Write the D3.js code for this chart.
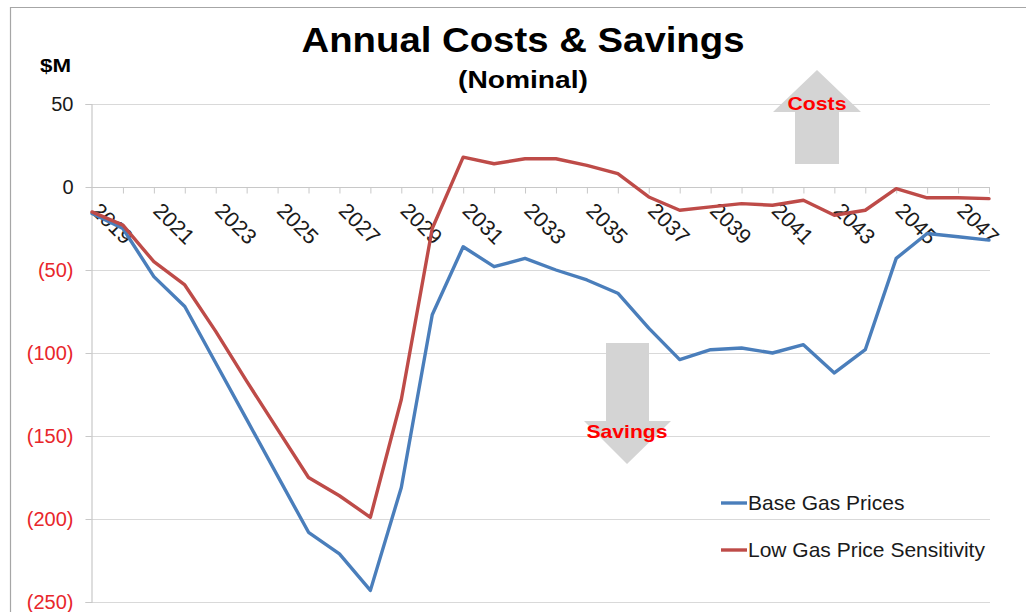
<!DOCTYPE html>
<html>
<head>
<meta charset="utf-8">
<script src="https://cdn.jsdelivr.net/npm/d3@7"></script>
<style>
  html, body { margin: 0; padding: 0; background: #fff; }
  svg { display: block; font-family: "Liberation Sans", Arial, sans-serif; }
</style>
</head>
<body>
<svg id="chart" width="1026" height="612"></svg>
<script>
// ---- data ----
const years = [2019, 2020, 2021, 2022, 2023, 2024, 2025, 2026, 2027, 2028, 2029,
               2030, 2031, 2032, 2033, 2034, 2035, 2036, 2037, 2038, 2039, 2040,
               2041, 2042, 2043, 2044, 2045, 2046, 2047, 2048];
const baseGas = [-16, -25, -54, -72, -106, -140, -174, -208, -221, -243, -181,
                 -77, -36, -48, -43, -50, -56, -64, -85, -104, -98, -97,
                 -100, -95, -112, -98, -43, -28, -30, -32];
const lowGas = [-15, -23, -45, -59, -87, -117, -146, -175, -186, -199, -128,
                -25, 18, 14, 17, 17, 13, 8, -6, -14, -12, -10,
                -11, -8, -17, -14, -1, -6.5, -6.5, -7];
const yTicks = [50, 0, -50, -100, -150, -200, -250];
const labelYears = [2019, 2021, 2023, 2025, 2027, 2029, 2031, 2033, 2035, 2037,
                    2039, 2041, 2043, 2045, 2047];
const seriesNames = ["Base Gas Prices", "Low Gas Price Sensitivity"];
const seriesColors = ["#4a7ebb", "#be4b48"];

const svg = d3.select("#chart");

// frame
svg.append("path").attr("d", "M10.5,612 L10.5,7.5 L1026,7.5")
  .attr("fill", "none").attr("stroke", "#a6a6a6").attr("stroke-width", 1.2);

const x = d3.scalePoint().domain(years).range([92, 989]);
const y = d3.scaleLinear().domain([-250, 50]).range([602, 104]);

// gridlines
svg.append("g").selectAll("line").data(yTicks).join("line")
  .attr("x1", 91).attr("x2", 990)
  .attr("y1", d => Math.round(y(d)) + 0.5).attr("y2", d => Math.round(y(d)) + 0.5)
  .attr("stroke", "#d9d9d9").attr("stroke-width", 1.2);

// y axis
const yAxis = d3.axisLeft(y).tickValues(yTicks).tickSize(6).tickPadding(12)
  .tickFormat(d => d < 0 ? "(" + Math.abs(d) + ")" : String(d));
const gy = svg.append("g").attr("transform", "translate(91.5,0)").call(yAxis);
gy.select(".domain").attr("stroke", "#c8c8c8").attr("stroke-width", 1.2);
gy.selectAll(".tick line").attr("stroke", "#c8c8c8");
gy.selectAll(".tick text")
  .attr("font-size", 20)
  .attr("font-family", "Liberation Sans, Arial, sans-serif")
  .attr("fill", d => d < 0 ? "#e8262b" : "#1a1a1a");

// x axis at zero
const xAxis = d3.axisBottom(x).tickSize(6).tickFormat("");
const gx = svg.append("g").attr("transform", `translate(0,${Math.round(y(0)) + 0.5})`).call(xAxis);
gx.select(".domain").attr("d", "M91,0H990").attr("stroke", "#c8c8c8").attr("stroke-width", 1.2);
gx.selectAll(".tick line").attr("stroke", "#c8c8c8");
gx.selectAll(".tick").filter(d => d === years[0]).remove();

// rotated x labels
svg.append("g").selectAll("text").data(labelYears).join("text")
  .attr("transform", d => `translate(${x(d) + 9},${y(0) + 14}) rotate(45)`)
  .attr("font-size", 21.5)
  .attr("fill", "#1a1a1a")
  .attr("dy", "0.72em")
  .text(d => d);

// arrows
const arrowColor = "#d4d4d4";
// up arrow (Costs)
svg.append("path")
  .attr("d", "M817,70 L861,112 L839,112 L839,164 L795,164 L795,112 L773,112 Z")
  .attr("fill", arrowColor);
svg.append("text").attr("x", 817).attr("y", 110).attr("text-anchor", "middle")
  .attr("font-size", 19).attr("font-weight", "bold").attr("fill", "#ff0000")
  .attr("textLength", 59).attr("lengthAdjust", "spacingAndGlyphs")
  .text("Costs");
// down arrow (Savings)
svg.append("path")
  .attr("d", "M606,343 L649,343 L649,421 L671,421 L627,464 L584,421 L606,421 Z")
  .attr("fill", arrowColor);
svg.append("text").attr("x", 627).attr("y", 438).attr("text-anchor", "middle")
  .attr("font-size", 19).attr("font-weight", "bold").attr("fill", "#ff0000")
  .attr("textLength", 81).attr("lengthAdjust", "spacingAndGlyphs")
  .text("Savings");

// lines
const line = d3.line().x((d, i) => x(years[i])).y(d => y(d)).curve(d3.curveLinear);
[baseGas, lowGas].forEach((s, k) => {
  svg.append("path").datum(s)
    .attr("d", line)
    .attr("fill", "none")
    .attr("stroke", seriesColors[k])
    .attr("stroke-width", 3.4)
    .attr("stroke-linejoin", "round")
    .attr("stroke-linecap", "round");
});

// legend
const legendY = [503, 550];
seriesNames.forEach((n, k) => {
  svg.append("line").attr("x1", 721).attr("x2", 747)
    .attr("y1", legendY[k]).attr("y2", legendY[k])
    .attr("stroke", seriesColors[k]).attr("stroke-width", 3.4);
  svg.append("text").attr("x", 748).attr("y", legendY[k]).attr("dy", "0.35em")
    .attr("font-size", 21).attr("fill", "#1a1a1a").text(n);
});

// titles
svg.append("text").attr("x", 523).attr("y", 52).attr("text-anchor", "middle")
  .attr("font-size", 35).attr("font-weight", "bold").attr("fill", "#000")
  .attr("textLength", 443).attr("lengthAdjust", "spacingAndGlyphs")
  .text("Annual Costs & Savings");
svg.append("text").attr("x", 523).attr("y", 88).attr("text-anchor", "middle")
  .attr("font-size", 23).attr("font-weight", "bold").attr("fill", "#000")
  .attr("textLength", 130).attr("lengthAdjust", "spacingAndGlyphs")
  .text("(Nominal)");
svg.append("text").attr("x", 40).attr("y", 72)
  .attr("font-size", 19).attr("font-weight", "bold").attr("fill", "#000")
  .attr("textLength", 31).attr("lengthAdjust", "spacingAndGlyphs")
  .text("$M");
</script>
</body>
</html>
